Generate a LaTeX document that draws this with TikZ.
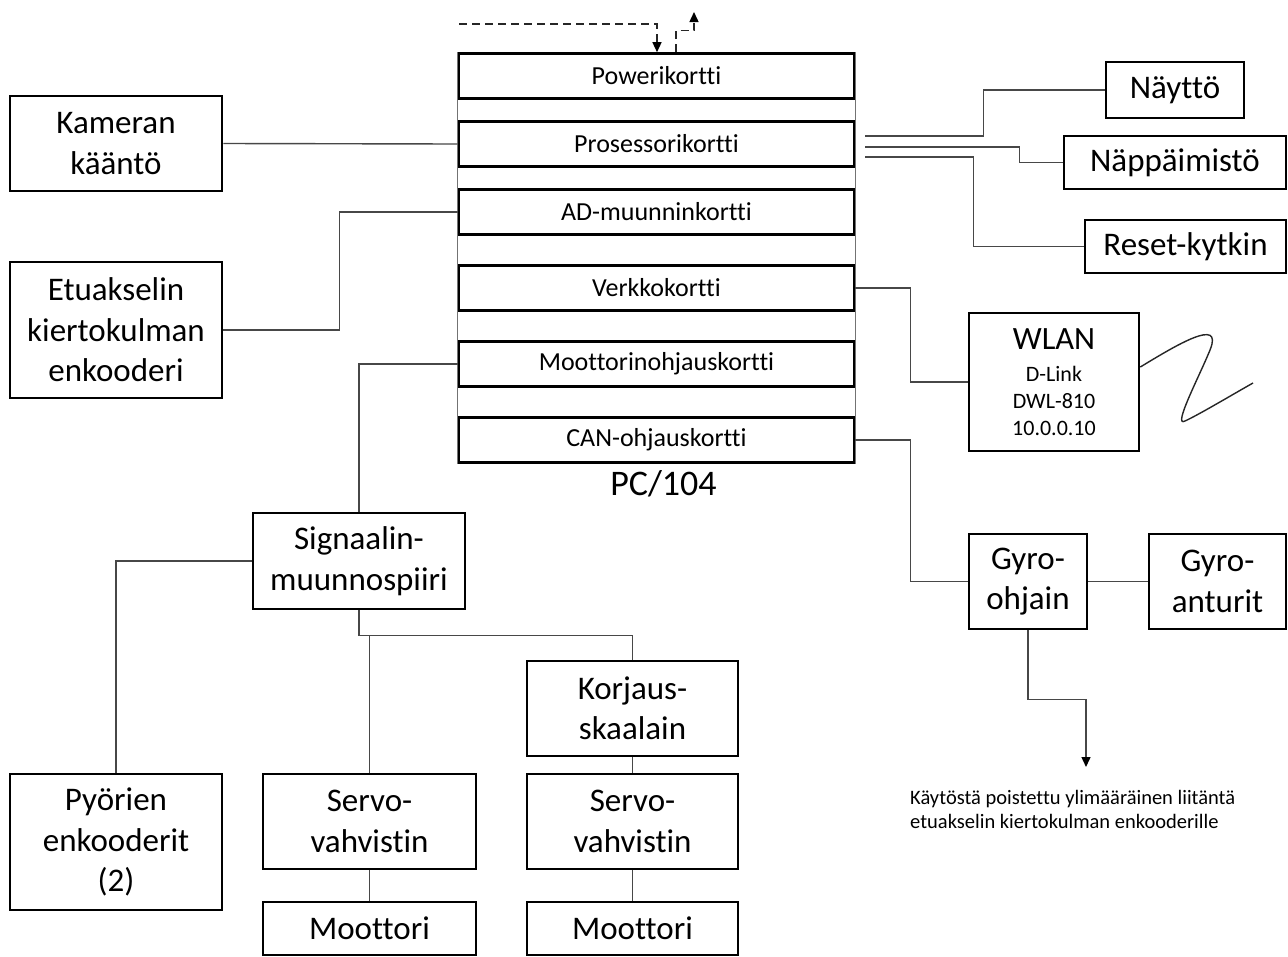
\documentclass[tikz,border=0pt]{standalone}
\usepackage{fontspec}
\setmainfont{Carlito}[Ligatures=NoCommon]
\usetikzlibrary{arrows.meta,calc,backgrounds}
\begin{document}
\begin{tikzpicture}[x=1pt,y=-1pt,
  box/.style={draw=black,line width=2.6pt,fill=white,inner sep=0pt,align=center,
    font=\fontsize{33}{40.5}\selectfont},
  board/.style={draw=black,line width=2.6pt,fill=white,inner sep=0pt,
    minimum width=395pt,minimum height=45pt,font=\fontsize{26}{30}\selectfont},
  wire/.style={draw=black!72,line width=1.4pt},
  rail/.style={draw=black!55,line width=1.4pt},
  dashwire/.style={draw=black!85,line width=1.4pt,dash pattern=on 8pt off 5pt},
  tip/.style={-{Triangle[length=10pt,width=9pt,color=black]}}
]
\useasboundingbox (0,0) rectangle (1288,956);

% PC/104 board stack
\node[board] (pow)  at (656.5,76)  {Powerikortti};
\node[board] (proc) at (656.5,144) {Prosessorikortti};
\node[board] (ad)   at (656.5,212) {AD-muunninkortti};
\node[board] (verk) at (656.5,288) {Verkkokortti};
\node[board] (moot) at (656.5,364) {Moottorinohjauskortti};
\node[board] (can)  at (656.5,440) {CAN-ohjauskortti};
\node[anchor=base,inner sep=0pt,font=\fontsize{36}{40}\selectfont] (pc) at (663.5,495) {PC/104};

\begin{scope}[on background layer]
  \fill[white] (0,0) rectangle (1288,956);
  \draw[rail] (pow.north west) -- (can.south west);
  \draw[rail] (pow.north east) -- (can.south east);
\end{scope}

% peripheral blocks
\node[box,minimum width=212pt,minimum height=95pt]  (kam)  at (116,143.5)  {Kameran\\kääntö};
\node[box,minimum width=212pt,minimum height=136pt] (etu)  at (116,330)    {Etuakselin\\kiertokulman\\enkooderi};
\node[box,minimum width=138pt,minimum height=56pt]  (nay)  at (1175,90)    {Näyttö};
\node[box,minimum width=222pt,minimum height=53pt]  (nap)  at (1175,162.5) {Näppäimistö};
\node[box,minimum width=201pt,minimum height=53pt]  (res)  at (1185.5,246.5) {Reset-kytkin};
\node[box,minimum width=170pt,minimum height=138pt,font=\fontsize{22}{27}\selectfont] (wlan) at (1054,382)
  {{\fontsize{32.5}{38}\selectfont WLAN}\\[5pt]D-Link\\DWL-810\\10.0.0.10};
\node[box,minimum width=118pt,minimum height=95pt]  (gyro) at (1028,581.5)  {Gyro-\\ohjain};
\node[box,minimum width=137pt,minimum height=95pt]  (ant)  at (1217.5,581.5) {Gyro-\\anturit};
\node[box,minimum width=212pt,minimum height=96pt]  (sig)  at (359,561)    {Signaalin-\\muunnospiiri};
\node[box,minimum width=212pt,minimum height=136pt] (pyo)  at (116,842)    {Pyörien\\enkooderit\\(2)};
\node[box,minimum width=213pt,minimum height=95pt]  (srvA) at (369.5,821.5) {Servo-\\vahvistin};
\node[box,minimum width=213pt,minimum height=53pt]  (motA) at (369.5,928.5) {Moottori};
\node[box,minimum width=211pt,minimum height=95pt]  (kor)  at (632.5,708.5) {Korjaus-\\skaalain};
\node[box,minimum width=211pt,minimum height=95pt]  (srvB) at (632.5,821.5) {Servo-\\vahvistin};
\node[box,minimum width=211pt,minimum height=53pt]  (motB) at (632.5,928.5) {Moottori};

\node[anchor=west,align=left,inner sep=0pt,font=\fontsize{20.5}{24}\selectfont] (note) at (910,809)
  {Käytöstä poistettu ylimääräinen liitäntä\\etuakselin kiertokulman enkooderille};

% power feed (dashed)
\coordinate (pin)  at (459,24);
\coordinate (pout) at (694,12);
\draw[dashwire,tip] (pin) -| ($(pow.north)+(0.5,0)$);
\draw[dashwire,tip] ($(pow.north)+(19.5,0)$) -- ++(0,-21.5) -| (pout);

% left side
\draw[wire] (kam.east) -- (proc.west);
\draw[wire] (etu.east) -| ($(ad.west)+(-118,0)$) -- (ad.west);
\draw[wire] (moot.west) -| (sig.north);
\draw[wire] (sig.west) -| (pyo.north);
\coordinate (bus) at ($(sig.south)+(0,25)$);
\draw[wire] (sig.south) -- (bus) -| (kor.north);
\draw[wire] (srvA.north) |- (bus);
\draw[wire] (kor.south) -- (srvB.north);
\draw[wire] (srvA.south) -- (motA.north);
\draw[wire] (srvB.south) -- (motB.north);

% processor card outputs
\coordinate (p1) at ($(proc.east)+(10,-8)$);
\coordinate (p2) at ($(proc.east)+(10,3)$);
\coordinate (p3) at ($(proc.east)+(10,13)$);
\draw[wire] (p1) -| ($(nay.west)+(-121,0)$) -- (nay.west);
\draw[wire] (p2) -| ($(nap.west)+(-43,0)$) -- (nap.west);
\draw[wire] (p3) -| ($(res.west)+(-110,0)$) -- (res.west);

% network and CAN
\draw[wire] (verk.east) -| ($(wlan.west)+(-57,0)$) -- (wlan.west);
\draw[wire] (can.east) -| ($(gyro.west)+(-57,0)$) -- (gyro.west);
\draw[wire] (gyro.east) -- (ant.west);
\coordinate (spare) at (1086,767);
\draw[wire,tip] (gyro.south) -- ++(0,69) -| (spare);

% antenna
\draw[draw=black!85,line width=1.4pt] ($(wlan.east)+(0,-15)$)
  .. controls (1175,346) and (1224,316) .. (1210,350)
  .. controls (1200,375) and (1172,428) .. (1185,421)
  .. controls (1200,414) and (1230,396) .. (1253,383);
\end{tikzpicture}
\end{document}
